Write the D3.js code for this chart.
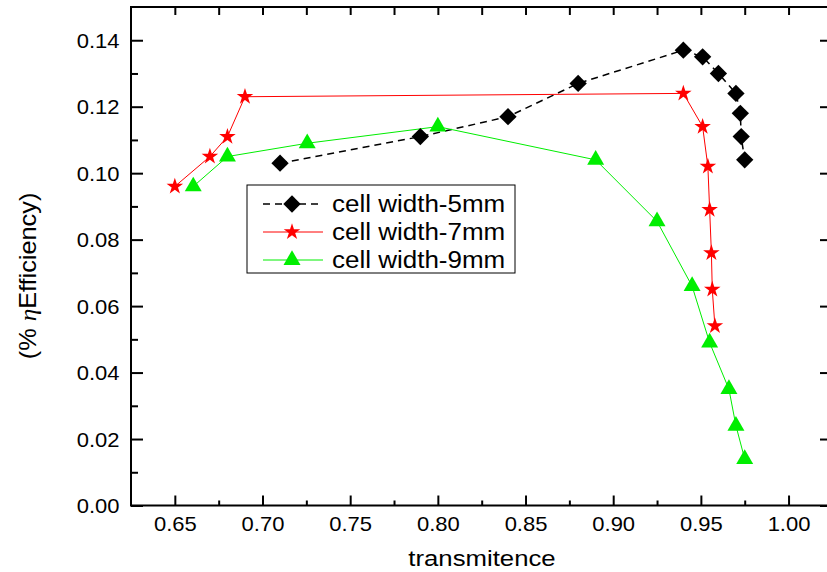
<!DOCTYPE html>
<html>
<head>
<meta charset="utf-8">
<script src="https://cdn.jsdelivr.net/npm/d3@7"></script>
<style>
  body { margin: 0; background: #fff; }
  text { font-family: "Liberation Sans", Arial, sans-serif; fill: #000; }
</style>
</head>
<body>
<div id="chart-container"></div>
<script>
// transmitence / efficiency readings for each cell width
const trans5 = [0.71, 0.79, 0.84, 0.88, 0.94, 0.951, 0.96, 0.970, 0.9725, 0.973, 0.975];
const eff5 = [0.103, 0.111, 0.117, 0.127, 0.137, 0.135, 0.130, 0.124, 0.118, 0.111, 0.104];
const trans7 = [0.65, 0.67, 0.68, 0.69, 0.94, 0.951, 0.954, 0.955, 0.956, 0.9565, 0.958];
const eff7 = [0.096, 0.105, 0.111, 0.123, 0.124, 0.114, 0.102, 0.089, 0.076, 0.065, 0.054];
const trans9 = [0.6605, 0.68, 0.7255, 0.80, 0.89, 0.925, 0.945, 0.955, 0.966, 0.970, 0.975];
const eff9 = [0.096, 0.105, 0.109, 0.114, 0.104, 0.0855, 0.066, 0.049, 0.035, 0.024, 0.014];
const seriesNames = ["cell width-5mm", "cell width-7mm", "cell width-9mm"];

const xTicks = [0.65, 0.70, 0.75, 0.80, 0.85, 0.90, 0.95, 1.00];
const yTicks = [0.00, 0.02, 0.04, 0.06, 0.08, 0.10, 0.12, 0.14];

const width = 827;
const height = 572;
const plotLeft = 131, plotRight = 828, plotTop = 7, plotBottom = 505.5;

const x = d3.scaleLinear().domain([0.625, 1.0225]).range([plotLeft, plotRight]);
const y = d3.scaleLinear().domain([0, 0.15]).range([plotBottom, plotTop]);

const series = [
  { name: seriesNames[0], tx: trans5, ef: eff5, color: "#000000", dash: "7,5", sw: 1.5,
    symbol: d3.symbolSquare, size: 150, rot: 45 },
  { name: seriesNames[1], tx: trans7, ef: eff7, color: "#ff0000", dash: null, sw: 1,
    symbol: d3.symbolStar, size: 85, rot: 0 },
  { name: seriesNames[2], tx: trans9, ef: eff9, color: "#00ee00", dash: null, sw: 1,
    symbol: d3.symbolTriangle, size: 125, rot: 0 }
];

const svg = d3.create("svg")
  .attr("width", width)
  .attr("height", height)
  .attr("viewBox", [0, 0, width, height]);

// stretch text a bit wider, like the original export
const sx = 1.1;

// bottom axis
svg.append("g")
  .attr("transform", `translate(0,${plotBottom})`)
  .call(d3.axisBottom(x).tickValues(xTicks).tickSize(-10).tickFormat(d3.format(".2f")))
  .call(g => g.select(".domain").remove())
  .call(g => g.selectAll("line").attr("stroke-width", 2))
  .call(g => g.selectAll("text").attr("font-size", 20).attr("transform", `scale(${sx},1)`)
    .attr("y", 26).attr("dy", 0));

svg.append("g")
  .attr("transform", `translate(0,${plotBottom})`)
  .call(d3.axisBottom(x).tickValues(d3.range(0.675, 1.01, 0.05)).tickSize(-5).tickFormat(""))
  .call(g => g.select(".domain").remove())
  .call(g => g.selectAll("line").attr("stroke-width", 2));

// left axis
svg.append("g")
  .attr("transform", `translate(${plotLeft},0)`)
  .call(d3.axisLeft(y).tickValues(yTicks).tickSize(-12).tickFormat(d3.format(".2f")))
  .call(g => g.select(".domain").remove())
  .call(g => g.selectAll("line").attr("stroke-width", 2))
  .call(g => g.selectAll("text").attr("font-size", 20).attr("transform", `scale(${sx},1)`)
    .attr("x", -10.5).attr("dy", "0.36em"));

svg.append("g")
  .attr("transform", `translate(${plotLeft},0)`)
  .call(d3.axisLeft(y).tickValues(d3.range(0.01, 0.15, 0.02)).tickSize(-7).tickFormat(""))
  .call(g => g.select(".domain").remove())
  .call(g => g.selectAll("line").attr("stroke-width", 2));

// top axis, ticks every 0.025
svg.append("g")
  .attr("transform", `translate(0,${plotTop})`)
  .call(d3.axisTop(x).tickValues(d3.range(0.65, 1.01, 0.025)).tickSize(-8).tickFormat(""))
  .call(g => g.select(".domain").remove())
  .call(g => g.selectAll("line").attr("stroke-width", 2));

// right axis, major only
svg.append("g")
  .attr("transform", `translate(${plotRight},0)`)
  .call(d3.axisRight(y).tickValues(yTicks).tickSize(-8).tickFormat(""))
  .call(g => g.select(".domain").remove())
  .call(g => g.selectAll("line").attr("stroke-width", 2));

// frame
svg.append("path")
  .attr("d", `M${plotLeft},${plotTop}H${plotRight}V${plotBottom}H${plotLeft}Z`)
  .attr("fill", "none")
  .attr("stroke", "#000")
  .attr("stroke-width", 2);

// lines
const line = d3.line().x(d => x(d[0])).y(d => y(d[1]));

series.forEach(s => {
  const pts = d3.zip(s.tx, s.ef);
  svg.append("path")
    .attr("d", line(pts))
    .attr("fill", "none")
    .attr("stroke", s.color)
    .attr("stroke-width", s.sw)
    .attr("stroke-dasharray", s.dash);
});

series.forEach(s => {
  const pts = d3.zip(s.tx, s.ef);
  svg.append("g")
    .selectAll("path")
    .data(pts)
    .join("path")
    .attr("transform", d => `translate(${x(d[0])},${y(d[1])}) rotate(${s.rot})`)
    .attr("d", d3.symbol(s.symbol, s.size))
    .attr("fill", s.color);
});

// legend
const legend = svg.append("g").attr("transform", "translate(247,185)");
legend.append("rect")
  .attr("width", 268)
  .attr("height", 88)
  .attr("fill", "#fff")
  .attr("stroke", "#000")
  .attr("stroke-width", 1);

series.forEach((s, i) => {
  const ly = 19 + i * 28;
  legend.append("line")
    .attr("x1", 16).attr("x2", 76)
    .attr("y1", ly).attr("y2", ly)
    .attr("stroke", s.color)
    .attr("stroke-width", s.sw)
    .attr("stroke-dasharray", s.dash);
  legend.append("path")
    .attr("transform", `translate(45,${ly}) rotate(${s.rot})`)
    .attr("d", d3.symbol(s.symbol, s.size))
    .attr("fill", s.color);
  legend.append("text")
    .attr("transform", `translate(85,${ly + 8}) scale(1.13,1)`)
    .attr("font-size", 23)
    .text(s.name);
});

// axis titles
svg.append("text")
  .attr("transform", `translate(482,566) scale(1.12,1)`)
  .attr("text-anchor", "middle")
  .attr("font-size", 23)
  .text("transmitence");

const yt = svg.append("text")
  .attr("transform", "translate(36,276) rotate(-90) scale(1.1,1)")
  .attr("text-anchor", "middle")
  .attr("font-size", 23);
yt.append("tspan").text("(% ");
yt.append("tspan").attr("font-family", "Liberation Serif").attr("font-style", "italic").text("η");
yt.append("tspan").text("Efficiency)");

document.getElementById("chart-container").appendChild(svg.node());
</script>
</body>
</html>
